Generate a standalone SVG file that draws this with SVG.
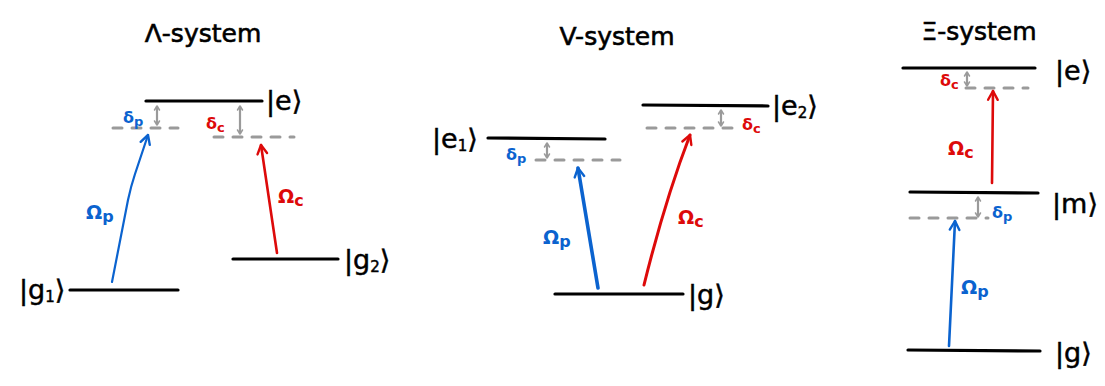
<svg xmlns="http://www.w3.org/2000/svg" width="1105" height="386" viewBox="0 0 1105 386">
<defs>
<style>
.title{font-family:"DejaVu Sans","Liberation Sans",sans-serif;font-size:25px;fill:#000;stroke:#000;stroke-width:0.6;text-anchor:middle}
.ket{font-family:"DejaVu Sans","Liberation Sans",sans-serif;font-size:27px;fill:#000;stroke:#000;stroke-width:0.5}
.lvl{stroke:#000;stroke-width:3.2;stroke-linecap:round;fill:none}
.virt{stroke:#9a9a9a;stroke-width:3;stroke-dasharray:9 10;stroke-linecap:round;fill:none}
.det{stroke:#9a9a9a;stroke-width:2.2;fill:none;marker-start:url(#ag);marker-end:url(#ag)}
.lab{font-family:"DejaVu Sans","Liberation Sans",sans-serif;font-weight:bold;font-size:19px}
.sm{font-family:"DejaVu Sans","Liberation Sans",sans-serif;font-weight:bold;font-size:16px}
.blue{fill:#0b63cf}
.red{fill:#dd0a0a}
.pb{stroke:#0b63cf;fill:none;stroke-linecap:round;marker-end:url(#ab)}
.pr{stroke:#dd0a0a;fill:none;stroke-linecap:round;marker-end:url(#ar)}
</style>
<marker id="ab" viewBox="0 0 10 10" refX="8" refY="5" markerWidth="8" markerHeight="8" orient="auto" markerUnits="userSpaceOnUse" overflow="visible">
<path d="M-3,-1 L8,5 L-3,11" stroke="#0b63cf" stroke-width="3" fill="none" stroke-linecap="round" stroke-linejoin="round"/>
</marker>
<marker id="ar" viewBox="0 0 10 10" refX="8" refY="5" markerWidth="8" markerHeight="8" orient="auto" markerUnits="userSpaceOnUse" overflow="visible">
<path d="M-3,-1 L8,5 L-3,11" stroke="#dd0a0a" stroke-width="3" fill="none" stroke-linecap="round" stroke-linejoin="round"/>
</marker>
<marker id="ag" viewBox="0 0 10 10" refX="8" refY="5" markerWidth="5" markerHeight="5" orient="auto-start-reverse" markerUnits="userSpaceOnUse" overflow="visible">
<path d="M0,0 L8,5 L0,10" stroke="#9a9a9a" stroke-width="3" fill="none" stroke-linecap="round" stroke-linejoin="round"/>
</marker>
</defs>
<rect width="1105" height="386" fill="#fff"/>

<!-- Lambda system -->
<g id="lambda-title"><text class="title" x="203" y="42">Λ-system</text></g>
<g id="lambda-e">
<line class="lvl" x1="146" y1="101" x2="262" y2="101"/>
<text class="ket" x="266" y="110">|e⟩</text>
</g>
<g id="lambda-virt-p">
<line class="virt" x1="113" y1="128" x2="178" y2="128"/>
<text class="sm blue" x="123" y="123">δ<tspan dy="3" font-size="13">p</tspan></text>
</g>
<g id="lambda-virt-c">
<line class="virt" x1="214" y1="137" x2="294" y2="137"/>
<text class="sm red" x="206" y="129">δ<tspan dy="3" font-size="13">c</tspan></text>
</g>
<g id="lambda-g1">
<line class="lvl" x1="70" y1="290" x2="178" y2="290"/>
<text class="ket" x="19" y="299">|g<tspan font-size="15" dy="3">1</tspan><tspan dy="-3">⟩</tspan></text>
</g>
<g id="lambda-g2">
<line class="lvl" x1="233" y1="259" x2="338" y2="259"/>
<text class="ket" x="344" y="269">|g<tspan font-size="15" dy="3">2</tspan><tspan dy="-3">⟩</tspan></text>
</g>

<!-- V system -->
<g id="v-title"><text class="title" x="617" y="45">V-system</text></g>
<g id="v-e1">
<line class="lvl" x1="488" y1="138" x2="605" y2="139"/>
<text class="ket" x="432" y="148">|e<tspan font-size="15" dy="3">1</tspan><tspan dy="-3">⟩</tspan></text>
</g>
<g id="v-virt-p">
<line class="virt" x1="536" y1="160" x2="620" y2="160"/>
<text class="sm blue" x="506" y="160">δ<tspan dy="3" font-size="13">p</tspan></text>
</g>
<g id="v-e2">
<line class="lvl" x1="643" y1="105" x2="768" y2="106"/>
<text class="ket" x="772" y="115">|e<tspan font-size="15" dy="3">2</tspan><tspan dy="-3">⟩</tspan></text>
</g>
<g id="v-virt-c">
<line class="virt" x1="647" y1="128" x2="732" y2="128"/>
<text class="sm red" x="742" y="130">δ<tspan dy="3" font-size="13">c</tspan></text>
</g>
<g id="v-g">
<line class="lvl" x1="555" y1="294" x2="683" y2="294"/>
<text class="ket" x="688" y="304">|g⟩</text>
</g>

<!-- Xi system -->
<g id="xi-title"><text class="title" x="979" y="40">Ξ-system</text></g>
<g id="xi-e">
<line class="lvl" x1="903" y1="68" x2="1035" y2="68"/>
<text class="ket" x="1055" y="80">|e⟩</text>
</g>
<g id="xi-virt-c">
<line class="virt" x1="966" y1="88" x2="1028" y2="88"/>
<text class="sm red" x="940" y="86">δ<tspan dy="3" font-size="13">c</tspan></text>
</g>
<g id="xi-m">
<line class="lvl" x1="910" y1="192" x2="1038" y2="193"/>
<text class="ket" x="1052" y="213">|m⟩</text>
</g>
<g id="xi-virt-p">
<line class="virt" x1="910" y1="218" x2="988" y2="218"/>
<text class="sm blue" x="992" y="218">δ<tspan dy="3" font-size="13">p</tspan></text>
</g>
<g id="xi-g">
<line class="lvl" x1="908" y1="350" x2="1040" y2="351"/>
<text class="ket" x="1055" y="362">|g⟩</text>
</g>

<!-- connectors -->
<g id="connectors">
<line class="det" x1="157" y1="106" x2="157" y2="125"/>
<line class="det" x1="240" y1="106" x2="240" y2="134"/>
<path class="pb" stroke-width="2.2" d="M112,282 L128,200 Q131,186 135,174 L148,135"/>
<path class="pr" stroke-width="2.6" d="M277,253 L261,145"/>
<line class="det" x1="547" y1="143" x2="547" y2="158"/>
<line class="det" x1="721" y1="110" x2="721" y2="126"/>
<path class="pb" stroke-width="3.6" d="M598,288 L578,168"/>
<path class="pr" stroke-width="3" d="M644,285 Q665,200 690,135"/>
<line class="det" x1="967" y1="72" x2="967" y2="86"/>
<line class="det" x1="978" y1="197" x2="978" y2="217"/>
<path class="pr" stroke-width="2.6" d="M992,183 L993,91"/>
<path class="pb" stroke-width="2.6" d="M949,346 L955,221"/>
</g>

<!-- transition labels -->
<g id="labels">
<text class="lab blue" x="86" y="219">Ω<tspan dy="3" font-size="16">p</tspan></text>
<text class="lab red" x="278" y="203">Ω<tspan dy="3" font-size="16">c</tspan></text>
<text class="lab blue" x="543" y="244">Ω<tspan dy="3" font-size="16">p</tspan></text>
<text class="lab red" x="678" y="224">Ω<tspan dy="3" font-size="16">c</tspan></text>
<text class="lab red" x="948" y="155">Ω<tspan dy="3" font-size="16">c</tspan></text>
<text class="lab blue" x="961" y="294">Ω<tspan dy="3" font-size="16">p</tspan></text>
</g>
</svg>
